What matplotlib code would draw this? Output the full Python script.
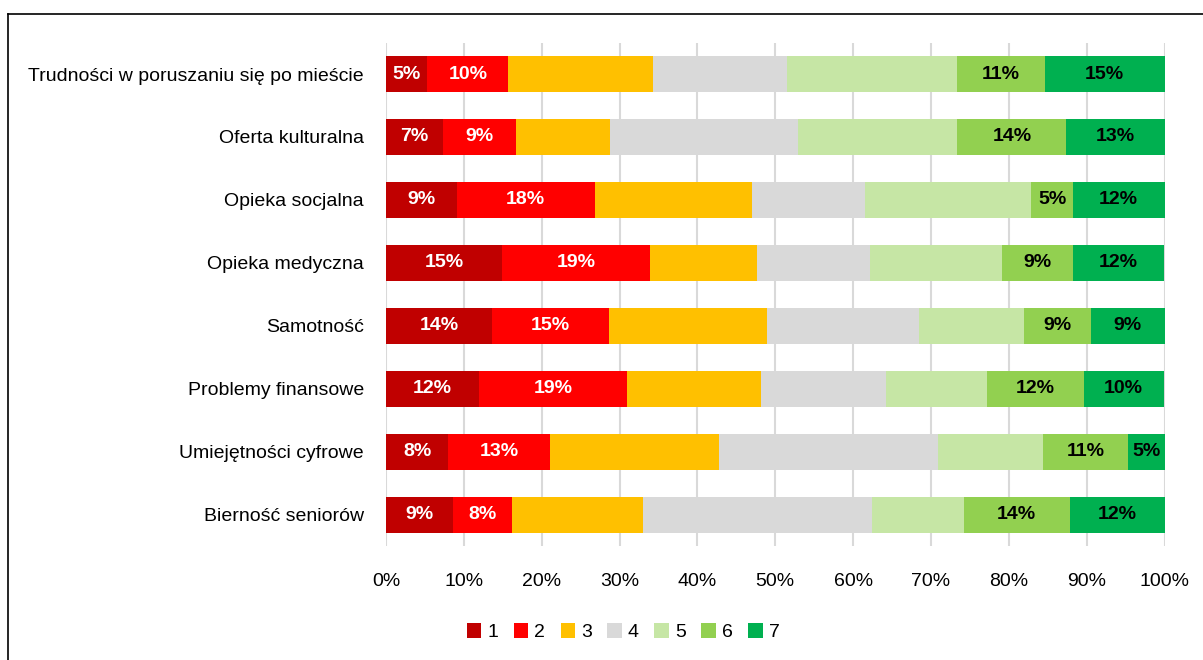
"""Stacked 100% bar chart of senior issues ratings."""
import numpy as np
import matplotlib.pyplot as plt
from matplotlib.lines import Line2D

# -------------------------------------------------------
# Data.
# -------------------------------------------------------
categories = [
    "Trudności w poruszaniu się po mieście",
    "Oferta kulturalna",
    "Opieka socjalna",
    "Opieka medyczna",
    "Samotność",
    "Problemy finansowe",
    "Umiejętności cyfrowe",
    "Bierność seniorów",
]
series_names = ["1", "2", "3", "4", "5", "6", "7"]
s1 = [5.3, 7.3, 9.1, 14.9, 13.6, 11.9, 8.0, 8.6]
s2 = [10.4, 9.4, 17.7, 19.0, 15.1, 19.1, 13.0, 7.6]
s3 = [18.6, 12.1, 20.2, 13.7, 20.3, 17.2, 21.8, 16.8]
s4 = [17.2, 24.1, 14.5, 14.6, 19.4, 16.0, 28.1, 29.4]
s5 = [21.8, 20.5, 21.4, 16.9, 13.6, 13.0, 13.5, 11.8]
s6 = [11.3, 14.0, 5.3, 9.2, 8.6, 12.4, 10.9, 13.6]
s7 = [15.4, 12.6, 11.8, 11.6, 9.4, 10.3, 4.7, 12.2]
values = [s1, s2, s3, s4, s5, s6, s7]
labelled = [True, True, False, False, False, True, True]

colors = ["#c00000", "#ff0000", "#ffc000", "#d9d9d9",
          "#c6e6a5", "#92d050", "#00b050"]
text_colors = ["white", "white", None, None, None, "black", "black"]

# -------------------------------------------------------
# Plot.
# -------------------------------------------------------
plt.rcParams["font.family"] = ["Liberation Sans", "DejaVu Sans"]

fig = plt.figure(figsize=(12.03, 6.6), dpi=100)
ax = fig.add_axes([0.3209, 0.172, 0.6471, 0.7636])

y = np.arange(len(categories))
left = np.zeros(len(categories))
for i, vals in enumerate(values):
    vals = np.array(vals)
    ax.barh(y, vals, left=left, height=0.56, color=colors[i],
            label=series_names[i], zorder=3)
    if labelled[i]:
        for yy, l, v in zip(y, left, vals):
            ax.text(l + v / 2, yy, "%d%%" % round(v), ha="center", va="center",
                    fontsize=14, fontweight="bold", color=text_colors[i],
                    zorder=4)
    left += vals

ax.set_xlim(0, 100)
ax.set_ylim(len(categories) - 0.5, -0.5)
ax.set_yticks(y)
ax.set_yticklabels(categories, fontsize=14)
ax.set_xticks(np.arange(0, 101, 10))
ax.set_xticklabels(["%d%%" % t for t in range(0, 101, 10)], fontsize=14)
ax.tick_params(length=0)
ax.tick_params(axis="y", pad=16)
ax.tick_params(axis="x", pad=19)
ax.grid(axis="x", color="#d9d9d9", linewidth=1.5, zorder=0)
for s in ax.spines.values():
    s.set_visible(False)

fig.legend(loc="center", bbox_to_anchor=(0.518, 0.042), ncol=7, frameon=False,
           fontsize=14, handlelength=0.75, handleheight=0.75,
           handletextpad=0.3, columnspacing=0.8)

# chart frame (only top and left edges fall inside the image)
fig.lines.append(Line2D([0.0066, 1.0], [0.9795, 0.9795], transform=fig.transFigure,
                        color="black", linewidth=1.2))
fig.lines.append(Line2D([0.0066, 0.0066], [0.0, 0.9795], transform=fig.transFigure,
                        color="black", linewidth=1.2))

plt.savefig("out.png", dpi=100)
plt.close()
